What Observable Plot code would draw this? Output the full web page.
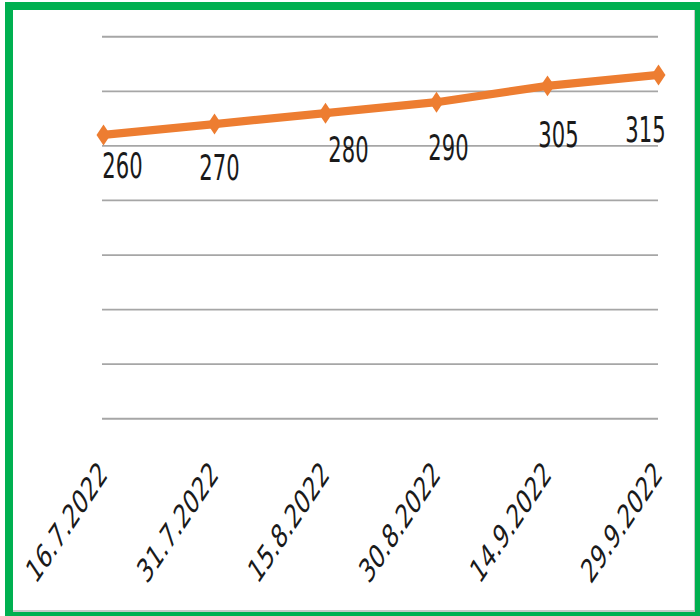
<!DOCTYPE html>
<html><head><meta charset="utf-8">
<script src="https://cdn.jsdelivr.net/npm/d3@7"></script>
<script src="https://cdn.jsdelivr.net/npm/@observablehq/plot@0.6"></script>
<style>
html,body{margin:0;padding:0;background:#fff;}
#wrap{position:relative;width:700px;height:616px;overflow:hidden;}
#frame{position:absolute;left:5px;top:2px;width:695px;height:614px;box-sizing:border-box;border-style:solid;border-color:#00b050;border-width:8px 5px 4px 8px;box-shadow:inset -1px -2px 0 #c8c8c8;}
#chart{position:absolute;left:0;top:0;}
</style></head><body>
<div id="wrap"><div id="frame"></div><div id="chart"></div></div>
<script>
// data
const dates = ["16.7.2022","31.7.2022","15.8.2022","30.8.2022","14.9.2022","29.9.2022"];
const values = [260,270,280,290,305,315];
const gridValues = [0,50,100,150,200,250,300,350];
// label layout (manual placement as in the original)
const labelDx = [19,5,23,12,11,-13];
const labelDy = [21,30,25,31,33,37];

const data = dates.map((d,i)=>({date:d, value:values[i]}));
const STRETCH = 1.5;
const font = "'Liberation Sans Narrow','Arial Narrow','DejaVu Sans Condensed',sans-serif";
const plot = Plot.plot({
  width:700, height:410,
  marginTop:24, marginBottom:131.33, marginLeft:102, marginRight:42,
  x:{type:"point", domain:dates, padding:0, axis:null},
  y:{domain:[0,350], axis:null},
  style:{fontFamily:font, background:"transparent", overflow:"visible", color:"#1a1a1a"},
  marks:[
    Plot.ruleY(gridValues, {stroke:"#a6a6a6", strokeWidth:1.2}),
    Plot.line(data,{x:"date",y:"value",stroke:"#ed7d31",strokeWidth:5.5}),
    Plot.dot(data,{x:"date",y:"value",symbol:"diamond2",r:6.3,fill:"#ed7d31",stroke:"none"}),
    ...data.map((d,i)=>Plot.text([d],{x:"date",y:"value",text:t=>String(t.value),dx:labelDx[i],dy:labelDy[i],fontSize:23.5,lineAnchor:"middle",fill:"#1a1a1a"})),
    Plot.text(dates,{x:d=>d, frameAnchor:"bottom", dy:33, rotate:-45, textAnchor:"end", lineAnchor:"middle", fontSize:22.5, fill:"#1a1a1a"})
  ]
});
plot.style.transformOrigin = "0 0";
plot.style.transform = `scaleY(${STRETCH})`;
document.getElementById("chart").appendChild(plot);
</script>
</body></html>
